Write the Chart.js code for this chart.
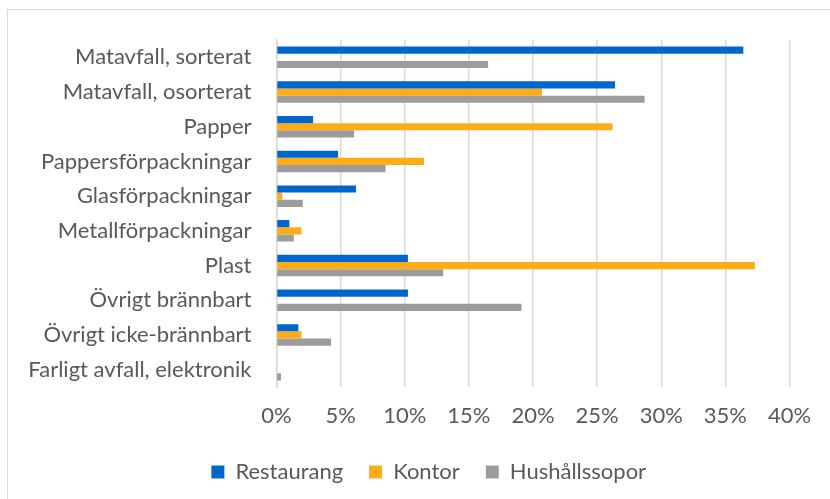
<!DOCTYPE html>
<html><head><meta charset="utf-8">
<script src="https://cdn.jsdelivr.net/npm/chart.js@4"></script>
<style>
html,body{margin:0;padding:0;background:#fff;overflow:hidden;width:830px;height:499px}
#frame{position:absolute;left:7px;top:9px;width:900px;height:600px;border:1px solid #d9d9d9;box-sizing:border-box}
#wrap{position:absolute;left:0;top:0;width:830px;height:499px}
</style></head><body>
<div id="frame"></div>
<div id="wrap"><canvas id="c"></canvas></div>
<script>
const categories = ["Matavfall, sorterat","Matavfall, osorterat","Papper","Pappersförpackningar","Glasförpackningar","Metallförpackningar","Plast","Övrigt brännbart","Övrigt icke-brännbart","Farligt avfall, elektronik"];
const seriesNames = ["Restaurang","Kontor","Hushållssopor"];
const restaurang = [36.4, 26.4, 2.85, 4.8, 6.2, 1.0, 10.25, 10.25, 1.7, 0];
const kontor = [0, 20.7, 26.2, 11.5, 0.45, 1.95, 37.3, 0, 1.95, 0];
const hushallssopor = [16.5, 28.7, 6.05, 8.5, 2.05, 1.35, 13.0, 19.1, 4.25, 0.35];
const xTickValues = [0, 5, 10, 15, 20, 25, 30, 35, 40];
const colors = ["#0066CC", "#FCAC17", "#9C9C9C"];

const FONT = "Lato";
const legendShift = {
  id: 'legendShift',
  afterLayout(chart) {
    const lg = chart.legend;
    if (!lg) return;
    const dx = 21, dy = 4;
    lg.left += dx; lg.right += dx; lg.top += dy; lg.bottom += dy;
  }
};

new Chart(document.getElementById('c'), {
  type: 'bar',
  data: {
    labels: categories,
    datasets: [
      { label: seriesNames[0], data: restaurang, backgroundColor: colors[0] },
      { label: seriesNames[1], data: kontor, backgroundColor: colors[1] },
      { label: seriesNames[2], data: hushallssopor, backgroundColor: colors[2] }
    ]
  },
  options: {
    indexAxis: 'y',
    responsive: true,
    maintainAspectRatio: false,
    animation: false,
    devicePixelRatio: 1,
    layout: { padding: { top: 40, left: 26, right: 40.5, bottom: 10 } },
    datasets: { bar: { barPercentage: 1.0, categoryPercentage: 0.62, borderWidth: 0 } },
    scales: {
      x: {
        min: 0, max: 40,
        afterBuildTicks(scale) { scale.ticks = xTickValues.map(v => ({ value: v })); },
        afterFit(scale) { scale.height = 44; },
        grid: { color: '#d9d9d9', lineWidth: 1.5, drawTicks: false },
        border: { display: false },
        ticks: { color: '#595959', font: { family: FONT, size: 22 }, padding: 16,
                 callback: v => v + '%' }
      },
      y: {
        afterFit(scale) { scale.width = 250.5; },
        grid: { display: false },
        border: { display: true, color: '#d9d9d9', width: 1.5 },
        ticks: { color: '#595959', font: { family: FONT, size: 22 }, padding: 17, autoSkip: false }
      }
    },
    plugins: {
      legend: {
        position: 'bottom',
        labels: { color: '#595959', font: { family: FONT, size: 22 }, boxWidth: 13, boxHeight: 13, padding: 26 }
      },
      tooltip: { enabled: false }
    }
  },
  plugins: [legendShift]
});
</script>
</body></html>
